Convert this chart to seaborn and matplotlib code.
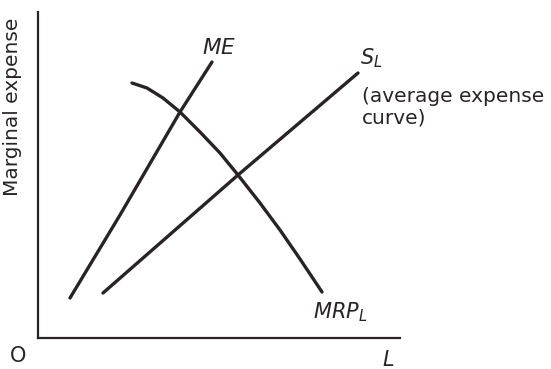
import matplotlib
matplotlib.use("Agg")
import matplotlib.pyplot as plt
import seaborn as sns

# curve points (units: labour L vs expense)
me_x = [32, 82, 142, 174]
me_y = [40, 123, 226, 276]

sl_x = [65, 200, 320]
sl_y = [45, 163, 265]

mrp_x = [94, 109, 125, 142, 162, 182, 200, 222, 242, 262, 284]
mrp_y = [255, 250, 240, 226, 206, 185, 163, 135, 108, 79, 46]

ink = "#2a2323"

sns.set_theme(style="white")
plt.rcParams["font.family"] = ["DejaVu Sans"]

fig = plt.figure(figsize=(5.51, 3.69), dpi=100)
ax = fig.add_axes([38 / 551, 31 / 369, 362 / 551, 326 / 369])

sns.lineplot(x=me_x, y=me_y, sort=False, estimator=None, color=ink, lw=2.4, ax=ax)
sns.lineplot(x=sl_x, y=sl_y, sort=False, estimator=None, color=ink, lw=2.4, ax=ax)
sns.lineplot(x=mrp_x, y=mrp_y, sort=False, estimator=None, color=ink, lw=2.4, ax=ax)

ax.set_xlim(0, 362)
ax.set_ylim(0, 326)
ax.set_xticks([])
ax.set_yticks([])
for s in ["top", "right"]:
    ax.spines[s].set_visible(False)
for s in ["left", "bottom"]:
    ax.spines[s].set_color(ink)
    ax.spines[s].set_linewidth(1.6)

ax.set_ylabel("Marginal expense", fontsize=14.5, color=ink)
ax.yaxis.set_label_coords(-16 / 362, 0.71)

ax.text(181, 290, r"$ME$", fontsize=15.5, color=ink, ha="center", va="center")
ax.text(322, 280, r"$S_L$", fontsize=15, color=ink, ha="left", va="center")
ax.text(324, 251, "(average expense\ncurve)", fontsize=14.5, color=ink,
        ha="left", va="top", linespacing=1.2)
ax.text(275, 20, r"$MRP_L$", fontsize=15, color=ink, ha="left", va="baseline")
ax.text(-20, -18, "O", fontsize=15, color=ink, ha="center", va="center", clip_on=False)
ax.text(350, -22, r"$L$", fontsize=15, color=ink, ha="center", va="center", clip_on=False)

fig.savefig("out.png", dpi=100)
